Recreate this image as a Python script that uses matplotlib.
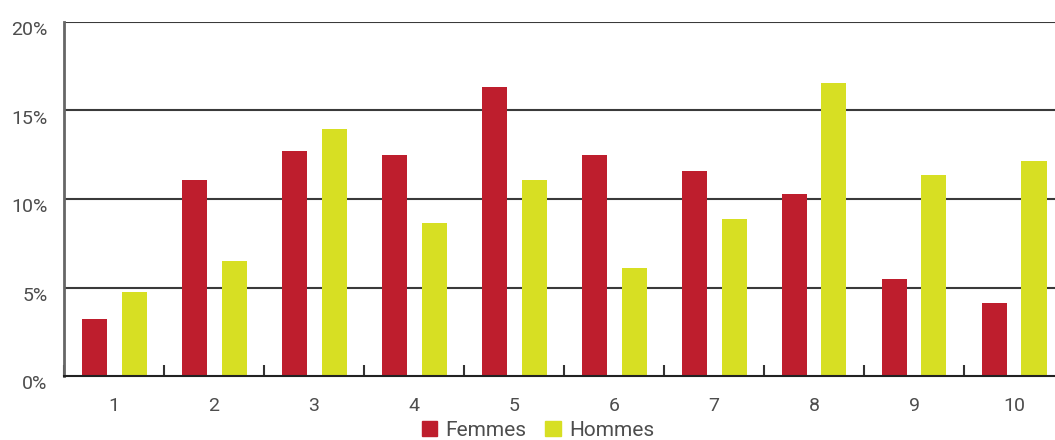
import numpy as np
import matplotlib
matplotlib.use("Agg")
import matplotlib.pyplot as plt
import matplotlib.transforms as mtransforms
from matplotlib.patches import Patch

# values (percent)
categories = ["1", "2", "3", "4", "5", "6", "7", "8", "9", "10"]
femmes = [3.2, 11.1, 12.7, 12.5, 16.3, 12.5, 11.6, 10.3, 5.5, 4.1]
hommes = [4.75, 6.5, 13.95, 8.65, 11.1, 6.1, 8.85, 16.55, 11.35, 12.15]
yticks = [0, 5, 10, 15, 20]

red = "#BE1E2D"
yellow = "#D7DF23"
txt = "#4d4d4d"

plt.rcParams['font.family'] = ['Roboto', 'DejaVu Sans']

fig = plt.figure(figsize=(10.55, 4.4), dpi=100)
ax = fig.add_axes([64/1055, 64/440, 1000/1055, 354/440])

x = np.arange(1, len(categories) + 1)
ax.bar(x - 0.2, femmes, width=0.25, color=red, zorder=3)
ax.bar(x + 0.2, hommes, width=0.25, color=yellow, zorder=3)

ax.set_xlim(0.5, len(categories) + 0.5)
ax.set_ylim(0, 20)

ax.set_yticks(yticks)
ax.set_yticklabels([str(v) + "%" for v in yticks])
for v in yticks[1:]:
    ax.axhline(v, color="#3a3a3a", lw=1.5, zorder=1)

ax.set_xticks(x)
ax.set_xticklabels(categories)
ax.set_xticks(np.arange(0.5, len(categories) + 1, 1), minor=True)
ax.tick_params(axis="x", which="major", length=0, pad=15, labelsize=14, labelcolor=txt)
ax.tick_params(axis="x", which="minor", direction="in", length=8, width=1.5, color="#333333")
ax.tick_params(axis="y", length=0, pad=12, labelsize=14, labelcolor=txt)

# y labels sit a bit below their gridline
offset = mtransforms.ScaledTranslation(0, -6/100, fig.dpi_scale_trans)
for lab in ax.get_yticklabels():
    lab.set_transform(lab.get_transform() + offset)

for s in ["top", "right"]:
    ax.spines[s].set_visible(False)
ax.spines["left"].set_color("#666666")
ax.spines["left"].set_linewidth(2)
ax.spines["bottom"].set_color("#222222")
ax.spines["bottom"].set_linewidth(1.5)
ax.spines["bottom"].set_zorder(4)

handles = [Patch(color=red, label="Femmes"), Patch(color=yellow, label="Hommes")]
fig.legend(handles=handles, loc="center", bbox_to_anchor=(538/1055, 1 - 430/440),
           ncol=2, frameon=False, fontsize=15, handlelength=0.75, handleheight=0.75,
           handletextpad=0.4, columnspacing=0.9, labelcolor=txt)

fig.savefig("out.png", dpi=100)
